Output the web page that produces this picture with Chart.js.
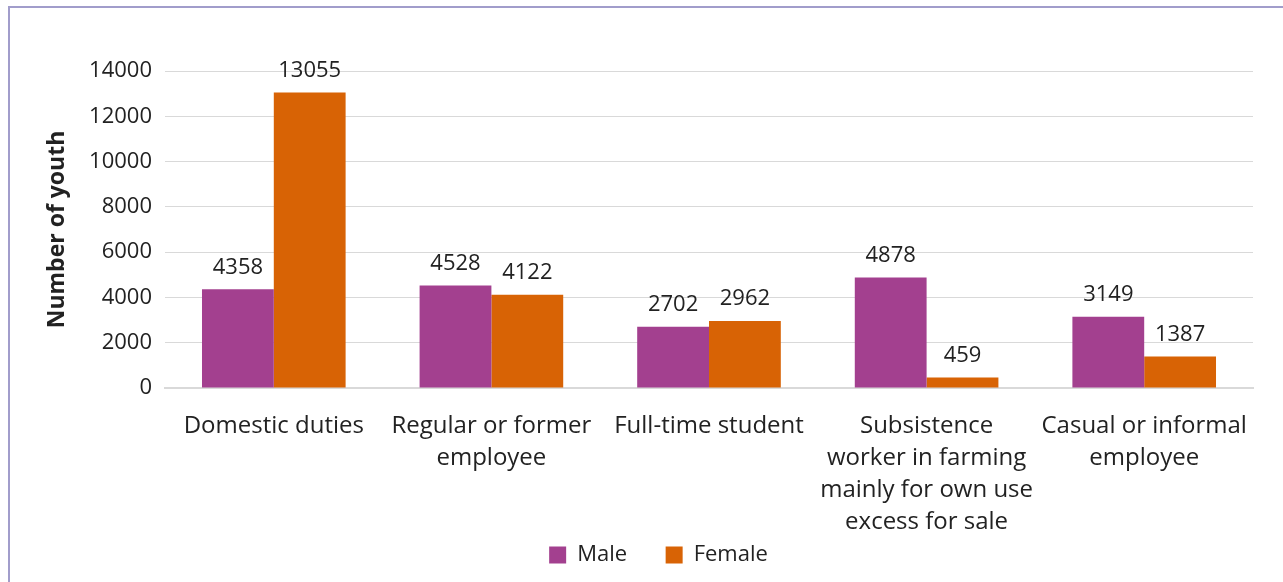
<!DOCTYPE html>
<html>
<head>
<meta charset="utf-8">
<script src="https://cdn.jsdelivr.net/npm/chart.js@4/dist/chart.umd.min.js"></script>
<style>
  html, body { margin: 0; padding: 0; background: #fff; }
  #wrap { position: relative; width: 1283px; height: 582px; overflow: hidden; }
  #frame {
    position: absolute; left: 8px; top: 6px; width: 1300px; height: 600px;
    border-left: 2px solid #a19dcb; border-top: 2px solid #a19dcb;
    pointer-events: none;
  }
  canvas { position: absolute; left: 0; top: 0; }
</style>
</head>
<body>
<div id="wrap">
  <canvas id="chart" width="1283" height="582"></canvas>
  <div id="frame"></div>
</div>
<script>
'use strict';

// ─── Data ─────────────────────────────────────────────────────────────────────
const categories = [
  'Domestic duties',
  ['Regular or former', 'employee'],
  'Full-time student',
  ['Subsistence', 'worker in farming', 'mainly for own use', 'excess for sale'],
  ['Casual or informal', 'employee'],
];
const maleValues   = [4358, 4528, 2702, 4878, 3149];
const femaleValues = [13055, 4122, 2962, 459, 1387];
const yTicks       = [0, 2000, 4000, 6000, 8000, 10000, 12000, 14000];

const FONT = '"Open Sans", "Noto Sans", sans-serif';
const TEXT = '#222';

// ─── Value labels above bars ──────────────────────────────────────────────────
const barValueLabels = {
  id: 'barValueLabels',
  afterDatasetsDraw(chart) {
    const ctx = chart.ctx;
    ctx.save();
    ctx.font = '22px ' + FONT;
    ctx.fillStyle = TEXT;
    ctx.textAlign = 'center';
    ctx.textBaseline = 'middle';
    chart.data.datasets.forEach((ds, di) => {
      chart.getDatasetMeta(di).data.forEach((bar, i) => {
        ctx.fillText(String(ds.data[i]), bar.x, bar.y - 22);
      });
    });
    ctx.restore();
  },
};

// ─── Legend sits a little right of centre in the original ────────────────────
const legendNudge = {
  id: 'legendNudge',
  afterLayout(chart) {
    chart.legend.left  += 17;
    chart.legend.right += 17;
  },
};

new Chart(document.getElementById('chart').getContext('2d'), {
  type: 'bar',
  data: {
    labels: categories,
    datasets: [
      { label: 'Male',   data: maleValues,   backgroundColor: '#a3408f' },
      { label: 'Female', data: femaleValues, backgroundColor: '#d86305' },
    ],
  },
  options: {
    responsive: false,
    animation: false,
    layout: { padding: { left: 30, right: 30, top: 71, bottom: 6 } },
    datasets: { bar: { categoryPercentage: 0.66, barPercentage: 1.0 } },
    plugins: {
      tooltip: { enabled: false },
      legend: {
        position: 'bottom',
        labels: {
          font: { family: FONT, size: 22 },
          color: TEXT,
          boxWidth: 17,
          boxHeight: 17,
          padding: 10,
          useBorderRadius: false,
          generateLabels(chart) {
            const items = Chart.defaults.plugins.legend.labels.generateLabels(chart);
            items[0].text += '     ';
            return items;
          },
        },
      },
    },
    scales: {
      x: {
        grid: { display: false },
        border: { color: '#d9d9d9', width: 2 },
        ticks: {
          font: { family: FONT, size: 24, lineHeight: 1.333 },
          color: TEXT,
          maxRotation: 0,
          autoSkip: false,
          padding: 14,
        },
        afterFit(scale) { scale.height = 146; },
      },
      y: {
        min: 0,
        max: 14000,
        afterBuildTicks(scale) { scale.ticks = yTicks.map(v => ({ value: v })); },
        grid: { color: '#d9d9d9', lineWidth: 1, drawTicks: false },
        border: { display: false },
        ticks: {
          font: { family: FONT, size: 22 },
          color: TEXT,
          padding: 13,
          callback: (v) => String(v),
        },
        title: {
          display: true,
          text: 'Number of youth',
          font: { family: FONT, size: 23, weight: 'bold' },
          color: TEXT,
          padding: { top: 14, bottom: 14 },
        },
        afterFit(scale) { scale.width = 135; },
      },
    },
  },
  plugins: [barValueLabels, legendNudge],
});
</script>
</body>
</html>
